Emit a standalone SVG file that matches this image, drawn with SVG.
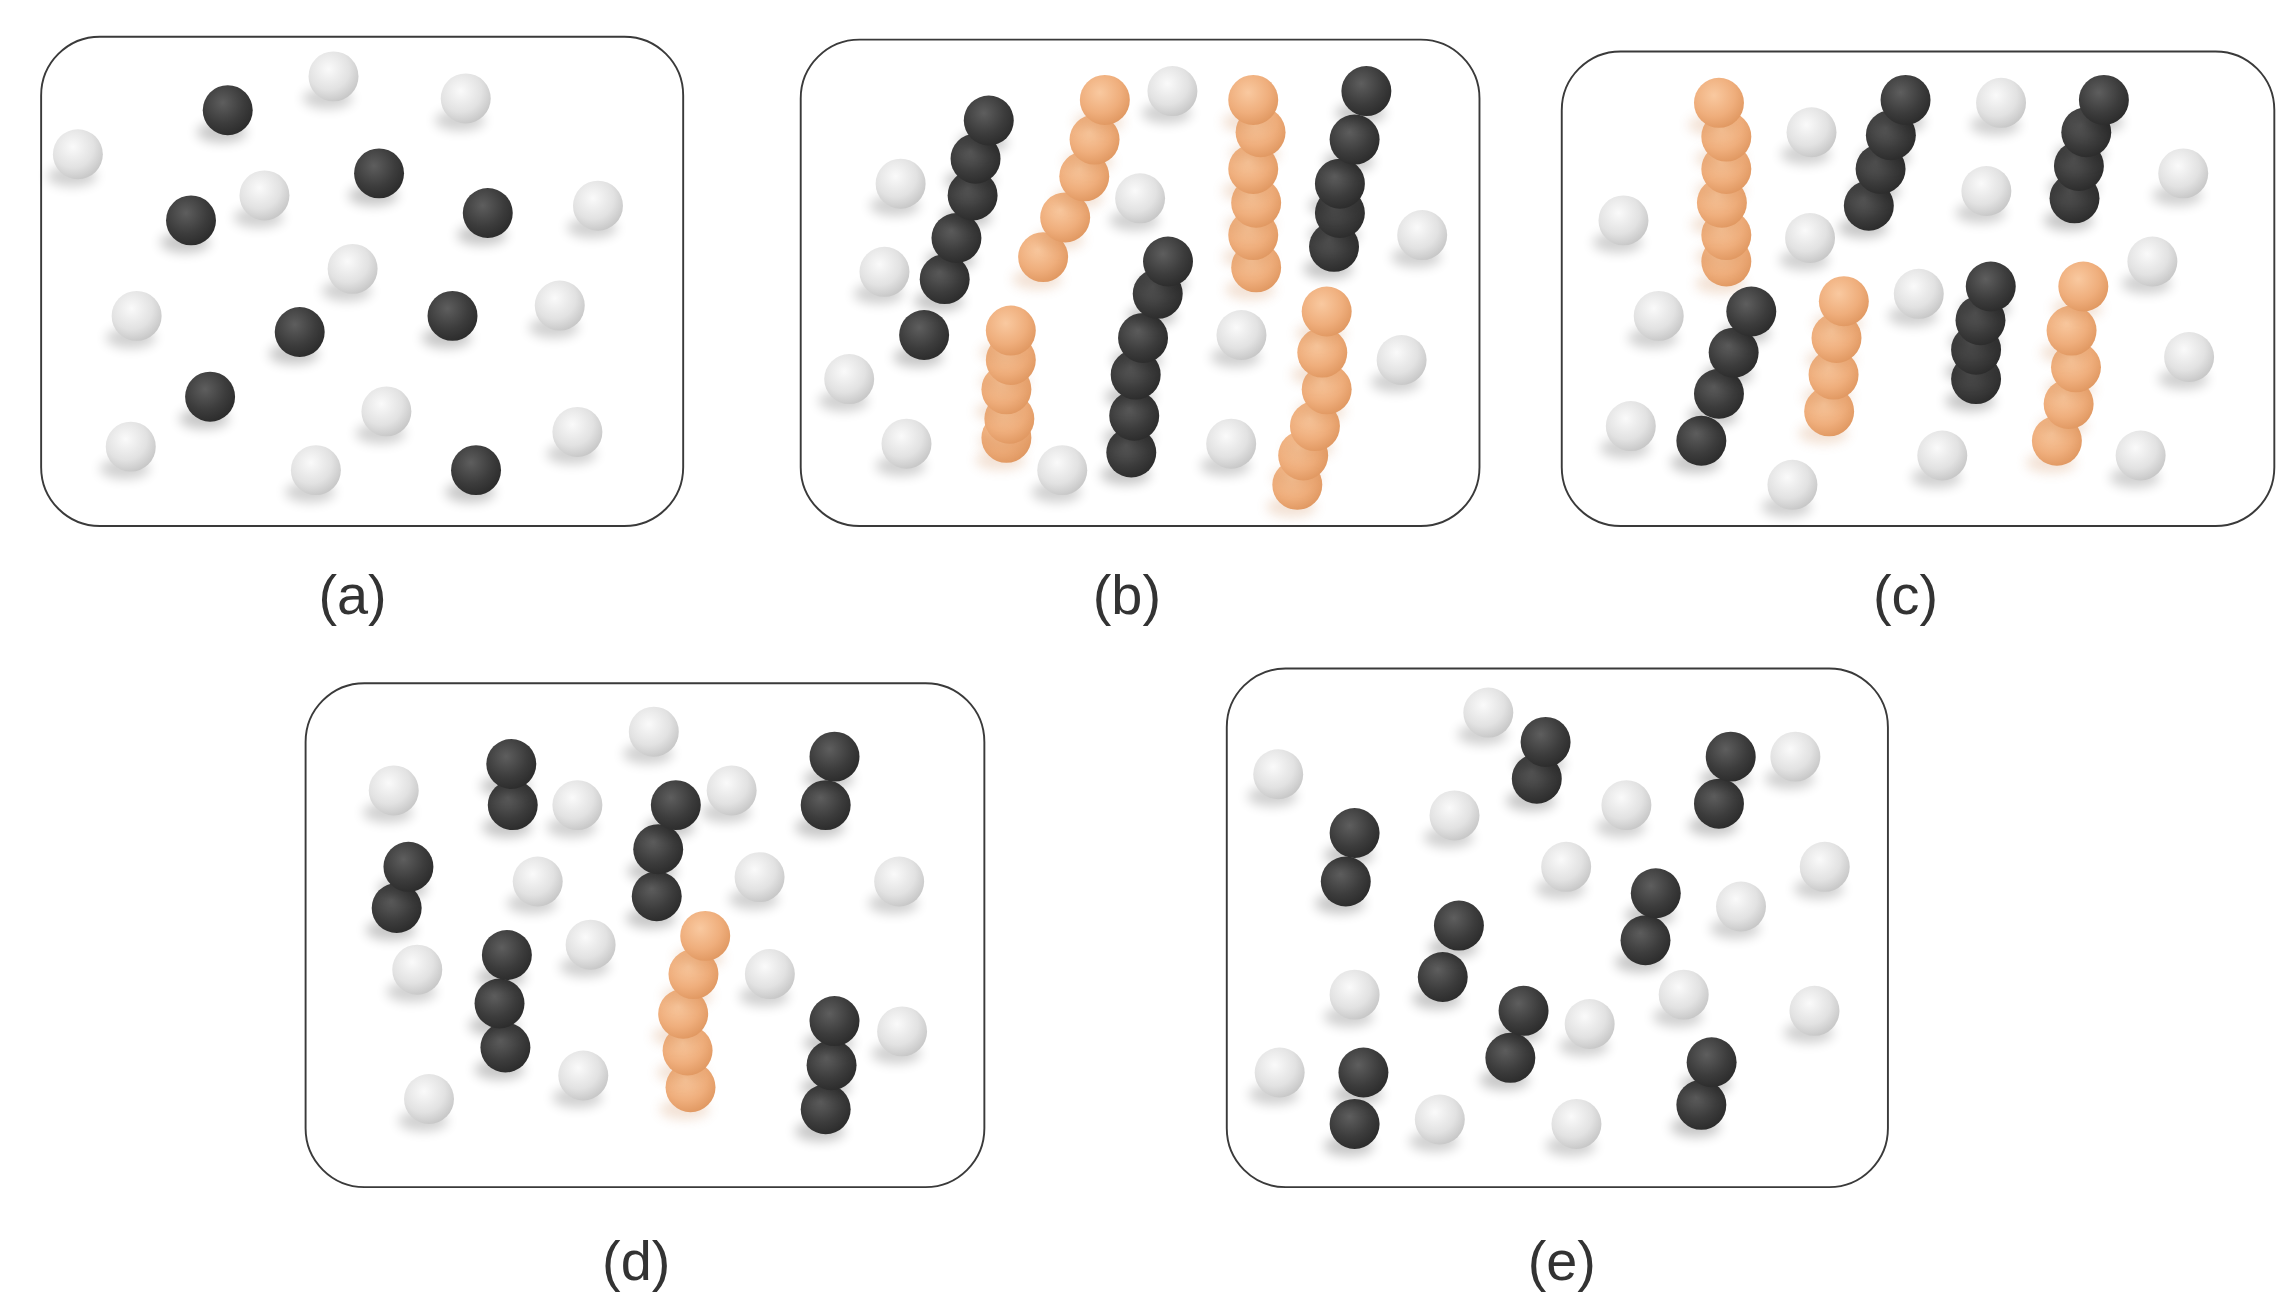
<svg xmlns="http://www.w3.org/2000/svg" xmlns:xlink="http://www.w3.org/1999/xlink" width="2292" height="1306" viewBox="0 0 2292 1306">
<style>
.panel{fill:#fff;stroke:#3a3a3a;stroke-width:1.3}
.lbl{font-family:"Liberation Sans","Noto Sans CJK SC",sans-serif;font-size:38px;fill:#333;text-anchor:middle}
</style>
<defs>
<radialGradient id="gl" cx="0.4" cy="0.35" r="0.7"><stop offset="0" stop-color="#fafafa"/><stop offset="0.6" stop-color="#e2e2e2"/><stop offset="1" stop-color="#c4c4c4"/></radialGradient>
<radialGradient id="gd" cx="0.4" cy="0.35" r="0.7"><stop offset="0" stop-color="#5e5e5e"/><stop offset="0.6" stop-color="#3c3c3c"/><stop offset="1" stop-color="#2a2a2a"/></radialGradient>
<radialGradient id="go" cx="0.4" cy="0.35" r="0.7"><stop offset="0" stop-color="#f9c9a0"/><stop offset="0.6" stop-color="#efae7c"/><stop offset="1" stop-color="#df965f"/></radialGradient>
<filter id="bl" x="-1" y="-1" width="3" height="3"><feGaussianBlur stdDeviation="4"/></filter>
<g id="L"><ellipse cx="-4" cy="15" rx="17" ry="7" fill="#000" opacity="0.18" filter="url(#bl)"/><circle r="17" fill="url(#gl)"/></g>
<g id="D"><ellipse cx="-4" cy="15" rx="17" ry="7" fill="#000" opacity="0.22" filter="url(#bl)"/><circle r="17" fill="url(#gd)"/></g>
<g id="O"><ellipse cx="-4" cy="15" rx="17" ry="7" fill="#c87a40" opacity="0.22" filter="url(#bl)"/><circle r="17" fill="url(#go)"/></g>
</defs>
<rect width="2292" height="1306" fill="#fff"/>
<g transform="scale(1.4692)">
<g id="panel-a">
<rect class="panel" x="28" y="25" width="437" height="333" rx="40"/>
<use href="#L" x="53" y="105"/><use href="#L" x="227" y="52"/><use href="#L" x="317" y="67"/><use href="#L" x="180" y="133"/><use href="#L" x="407" y="140"/><use href="#L" x="240" y="183"/><use href="#L" x="93" y="215"/><use href="#L" x="381" y="208"/><use href="#L" x="263" y="280"/><use href="#L" x="89" y="304"/><use href="#L" x="215" y="320"/><use href="#L" x="393" y="294"/>
<use href="#D" x="155" y="75"/><use href="#D" x="258" y="118"/><use href="#D" x="130" y="150"/><use href="#D" x="332" y="145"/><use href="#D" x="204" y="226"/><use href="#D" x="308" y="215"/><use href="#D" x="143" y="270"/><use href="#D" x="324" y="320"/>
<text class="lbl" x="240" y="418">(a)</text>
</g>
<g id="panel-b">
<rect class="panel" x="545" y="27" width="462" height="331" rx="40"/>
<use href="#L" x="798" y="62"/><use href="#L" x="613" y="125"/><use href="#L" x="776" y="135"/><use href="#L" x="602" y="185"/><use href="#L" x="968" y="160"/><use href="#L" x="845" y="228"/><use href="#L" x="578" y="258"/><use href="#L" x="954" y="245"/><use href="#L" x="617" y="302"/><use href="#L" x="723" y="320"/><use href="#L" x="838" y="302"/>
<use href="#D" x="629" y="228"/><use href="#D" x="643" y="190"/><use href="#D" x="651" y="162"/><use href="#D" x="662" y="133"/><use href="#D" x="664" y="108"/><use href="#D" x="673" y="82"/>
<use href="#O" x="710" y="175"/><use href="#O" x="725" y="148"/><use href="#O" x="738" y="120"/><use href="#O" x="745" y="95"/><use href="#O" x="752" y="68"/>
<use href="#O" x="855" y="182"/><use href="#O" x="853" y="160"/><use href="#O" x="855" y="138"/><use href="#O" x="853" y="115"/><use href="#O" x="858" y="90"/><use href="#O" x="853" y="68"/>
<use href="#D" x="908" y="168"/><use href="#D" x="912" y="145"/><use href="#D" x="912" y="125"/><use href="#D" x="922" y="95"/><use href="#D" x="930" y="62"/>
<use href="#O" x="685" y="298"/><use href="#O" x="687" y="285"/><use href="#O" x="685" y="265"/><use href="#O" x="688" y="245"/><use href="#O" x="688" y="225"/>
<use href="#D" x="770" y="308"/><use href="#D" x="772" y="283"/><use href="#D" x="773" y="255"/><use href="#D" x="778" y="230"/><use href="#D" x="788" y="200"/><use href="#D" x="795" y="178"/>
<use href="#O" x="883" y="330"/><use href="#O" x="887" y="310"/><use href="#O" x="895" y="290"/><use href="#O" x="903" y="265"/><use href="#O" x="900" y="240"/><use href="#O" x="903" y="212"/>
<text class="lbl" x="767" y="418">(b)</text>
</g>
<g id="panel-c">
<rect class="panel" x="1063" y="35" width="485" height="323" rx="40"/>
<use href="#L" x="1233" y="90"/><use href="#L" x="1362" y="70"/><use href="#L" x="1486" y="118"/><use href="#L" x="1105" y="150"/><use href="#L" x="1352" y="130"/><use href="#L" x="1232" y="162"/><use href="#L" x="1465" y="178"/><use href="#L" x="1306" y="200"/><use href="#L" x="1129" y="215"/><use href="#L" x="1490" y="243"/><use href="#L" x="1110" y="290"/><use href="#L" x="1322" y="310"/><use href="#L" x="1457" y="310"/><use href="#L" x="1220" y="330"/>
<use href="#O" x="1175" y="178"/><use href="#O" x="1175" y="160"/><use href="#O" x="1172" y="138"/><use href="#O" x="1175" y="115"/><use href="#O" x="1175" y="93"/><use href="#O" x="1170" y="70"/>
<use href="#D" x="1272" y="140"/><use href="#D" x="1280" y="115"/><use href="#D" x="1287" y="92"/><use href="#D" x="1297" y="68"/>
<use href="#D" x="1412" y="135"/><use href="#D" x="1415" y="113"/><use href="#D" x="1420" y="90"/><use href="#D" x="1432" y="68"/>
<use href="#D" x="1158" y="300"/><use href="#D" x="1170" y="268"/><use href="#D" x="1180" y="240"/><use href="#D" x="1192" y="212"/>
<use href="#O" x="1245" y="280"/><use href="#O" x="1248" y="255"/><use href="#O" x="1250" y="230"/><use href="#O" x="1255" y="205"/>
<use href="#D" x="1345" y="258"/><use href="#D" x="1345" y="238"/><use href="#D" x="1348" y="218"/><use href="#D" x="1355" y="195"/>
<use href="#O" x="1400" y="300"/><use href="#O" x="1408" y="275"/><use href="#O" x="1413" y="250"/><use href="#O" x="1410" y="225"/><use href="#O" x="1418" y="195"/>
<text class="lbl" x="1297" y="418">(c)</text>
</g>
<g id="panel-d">
<rect class="panel" x="208" y="465" width="462" height="343" rx="40"/>
<use href="#L" x="445" y="498"/><use href="#L" x="268" y="538"/><use href="#L" x="498" y="538"/><use href="#L" x="393" y="548"/><use href="#L" x="366" y="600"/><use href="#L" x="517" y="597"/><use href="#L" x="612" y="600"/><use href="#L" x="284" y="660"/><use href="#L" x="402" y="643"/><use href="#L" x="524" y="663"/><use href="#L" x="614" y="702"/><use href="#L" x="292" y="748"/><use href="#L" x="397" y="732"/>
<use href="#D" x="349" y="548"/><use href="#D" x="348" y="520"/>
<use href="#D" x="447" y="610"/><use href="#D" x="448" y="578"/><use href="#D" x="460" y="548"/>
<use href="#D" x="562" y="548"/><use href="#D" x="568" y="515"/>
<use href="#D" x="270" y="618"/><use href="#D" x="278" y="590"/>
<use href="#D" x="344" y="713"/><use href="#D" x="340" y="683"/><use href="#D" x="345" y="650"/>
<use href="#D" x="562" y="755"/><use href="#D" x="566" y="725"/><use href="#D" x="568" y="695"/>
<use href="#O" x="470" y="740"/><use href="#O" x="468" y="715"/><use href="#O" x="465" y="690"/><use href="#O" x="472" y="663"/><use href="#O" x="480" y="637"/>
<text class="lbl" x="433" y="871">(d)</text>
</g>
<g id="panel-e">
<rect class="panel" x="835" y="455" width="450" height="353" rx="40"/>
<use href="#L" x="1013" y="485"/><use href="#L" x="870" y="527"/><use href="#L" x="1222" y="515"/><use href="#L" x="990" y="555"/><use href="#L" x="1107" y="548"/><use href="#L" x="1066" y="590"/><use href="#L" x="1242" y="590"/><use href="#L" x="1185" y="617"/><use href="#L" x="922" y="677"/><use href="#L" x="1082" y="697"/><use href="#L" x="1146" y="677"/><use href="#L" x="1235" y="688"/><use href="#L" x="871" y="730"/><use href="#L" x="980" y="762"/><use href="#L" x="1073" y="765"/>
<use href="#D" x="1046" y="530"/><use href="#D" x="1052" y="505"/>
<use href="#D" x="1170" y="547"/><use href="#D" x="1178" y="515"/>
<use href="#D" x="916" y="600"/><use href="#D" x="922" y="567"/>
<use href="#D" x="1120" y="640"/><use href="#D" x="1127" y="608"/>
<use href="#D" x="982" y="665"/><use href="#D" x="993" y="630"/>
<use href="#D" x="1028" y="720"/><use href="#D" x="1037" y="688"/>
<use href="#D" x="1158" y="752"/><use href="#D" x="1165" y="723"/>
<use href="#D" x="922" y="765"/><use href="#D" x="928" y="730"/>
<text class="lbl" x="1063" y="871">(e)</text>
</g>
</g>
</svg>
